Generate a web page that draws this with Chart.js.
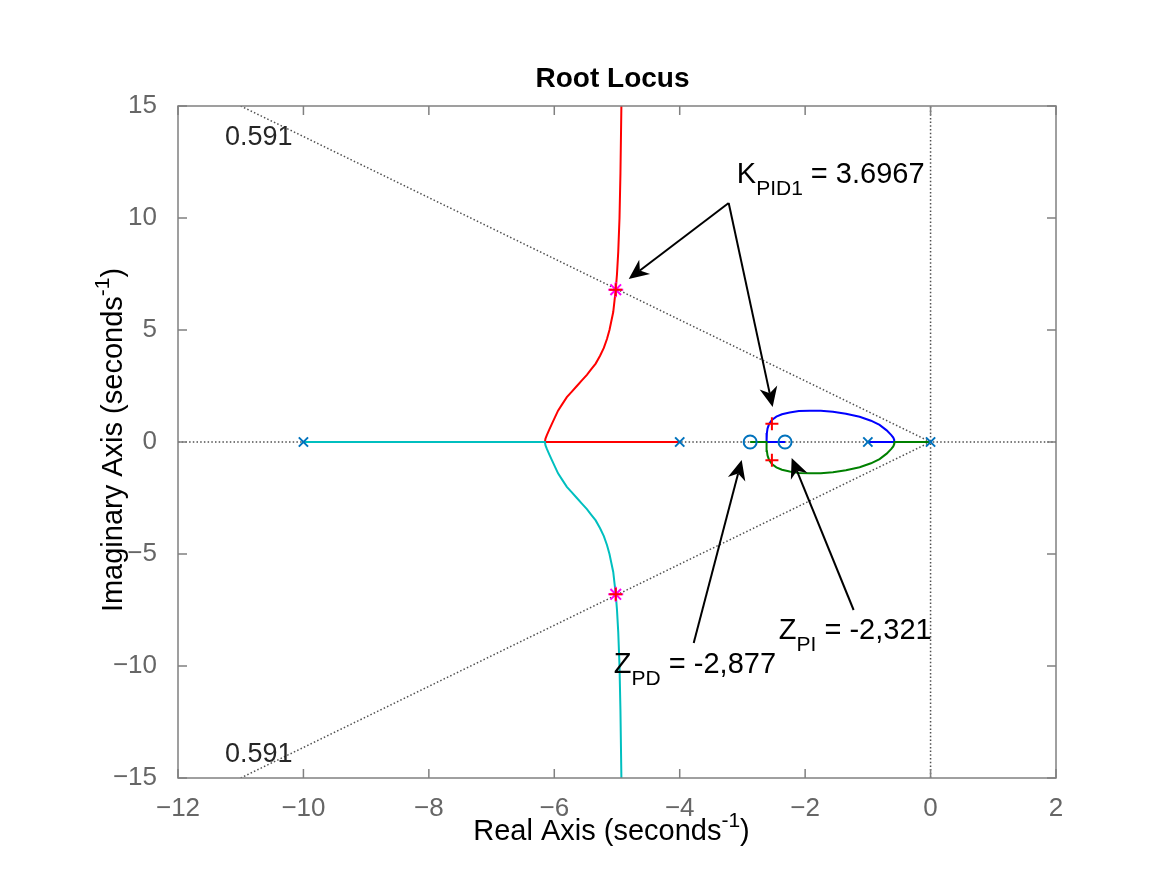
<!DOCTYPE html>
<html><head><meta charset="utf-8">
<script src="https://cdn.jsdelivr.net/npm/chart.js@4.4.0/dist/chart.umd.min.js"></script>
<style>html,body{margin:0;padding:0;background:#fff;} canvas{display:block;}</style>
</head><body>
<canvas id="c" width="1167" height="875"></canvas>
<script>
const FONT = '"Liberation Sans", Arial, Helvetica, sans-serif';

// ---- data ----
const poleX = [-10, -4, -1, 0];
const poleY = [0, 0, 0, 0];
const zeroX = [-2.877, -2.321];
const zeroY = [0, 0];

const redX = [-4, -6.15, -6.14, -6.12, -6.08, -6.04, -5.99, -5.94, -5.87, -5.80, -5.72, -5.64, -5.56, -5.48, -5.41, -5.34, -5.27, -5.21, -5.16, -5.12, -5.09, -5.06, -5.04, -5.02, -5.00, -4.98, -4.96, -4.945, -4.93];
const redY = [0, 0, 0.15, 0.30, 0.55, 0.80, 1.10, 1.40, 1.70, 2.00, 2.25, 2.50, 2.75, 3.00, 3.25, 3.50, 3.85, 4.20, 4.60, 5.00, 5.40, 5.80, 6.30, 6.80, 7.50, 8.50, 10.0, 12.0, 15.0];

const cyanX = [-10, -6.15, -6.14, -6.12, -6.08, -6.04, -5.99, -5.94, -5.87, -5.80, -5.72, -5.64, -5.56, -5.48, -5.41, -5.34, -5.27, -5.21, -5.16, -5.12, -5.09, -5.06, -5.04, -5.02, -5.00, -4.98, -4.96, -4.945, -4.93];
const cyanY = [0, 0, -0.15, -0.30, -0.55, -0.80, -1.10, -1.40, -1.70, -2.00, -2.25, -2.50, -2.75, -3.00, -3.25, -3.50, -3.85, -4.20, -4.60, -5.00, -5.40, -5.80, -6.30, -6.80, -7.50, -8.50, -10.0, -12.0, -15.0];

const blueX = [-1, -0.574, -0.58, -0.595, -0.626, -0.70, -0.813, -0.95, -1.131, -1.35, -1.557, -1.75, -1.928, -2.10, -2.247, -2.37, -2.459, -2.53, -2.575, -2.60, -2.61, -2.615, -2.615, -2.321];
const blueY = [0, 0, 0.10, 0.20, 0.31, 0.52, 0.76, 0.95, 1.13, 1.26, 1.35, 1.39, 1.40, 1.38, 1.32, 1.24, 1.13, 0.98, 0.80, 0.60, 0.40, 0.20, 0, 0];

const greenX = [0, -0.574, -0.58, -0.595, -0.626, -0.70, -0.813, -0.95, -1.131, -1.35, -1.557, -1.75, -1.928, -2.10, -2.247, -2.37, -2.459, -2.53, -2.575, -2.60, -2.61, -2.615, -2.615, -2.877];
const greenY = [0, 0, -0.10, -0.20, -0.31, -0.52, -0.76, -0.95, -1.13, -1.26, -1.35, -1.39, -1.40, -1.38, -1.32, -1.24, -1.13, -0.98, -0.80, -0.60, -0.40, -0.20, 0, 0];

const clPoleX = [-5.02, -5.02, -2.53, -2.53];
const clPoleY = [6.8, -6.8, 0.82, -0.82];
const starX = [-5.02, -5.02];
const starY = [6.8, -6.8];

const dampUpX = [0, -11.0];
const dampUpY = [0, 15];
const dampDnX = [0, -11.0];
const dampDnY = [0, -15];
const realAxX = [-12, 2];
const realAxY = [0, 0];
const imagAxX = [0, 0];
const imagAxY = [-15, 15];

const xTicks = [-12, -10, -8, -6, -4, -2, 0, 2];
const yTicks = [-15, -10, -5, 0, 5, 10, 15];
const dampLabel = '0.591';
const dampLabelX = [-11.25, -11.25];
const dampLabelY = [13.26, -14.29];

// annotation arrows: tail -> tip (data units)
const arrowTailX = [-3.219, -3.219, -3.777, -1.227];
const arrowTailY = [10.67, 10.67, -8.97, -7.5];
const arrowTipX = [-4.813, -2.518, -3.012, -2.215];
const arrowTipY = [7.28, 1.56, -0.80, -0.71];

const annText = [
  [['K', 0], ['PID1', 1], [' = 3.6967', 0]],
  [['Z', 0], ['PD', 1], [' = -2,877', 0]],
  [['Z', 0], ['PI', 1], [' = -2,321', 0]]
];
const annX = [-3.09, -5.05, -2.42];
const annY = [11.56, -10.31, -8.79];

const pts = (xs, ys) => xs.map((x, i) => ({x: x, y: ys[i]}));
const fmt = v => (v < 0 ? '\u2212' + Math.abs(v) : String(v));

const dotted = (xs, ys) => ({
  data: pts(xs, ys), showLine: true, borderColor: '#505050', borderWidth: 1.5,
  borderDash: [1.5, 2.2], pointRadius: 0, order: 10, fill: false
});
const curve = (xs, ys, c) => ({
  data: pts(xs, ys), showLine: true, borderColor: c, borderWidth: 2,
  pointRadius: 0, order: 5, fill: false, tension: 0
});

function drawRich(ctx, parts, x, y, big, small, align) {
  let w = 0;
  parts.forEach(p => { ctx.font = (p[1] ? small : big) + 'px ' + FONT; w += ctx.measureText(p[0]).width; });
  let cx = align === 'center' ? x - w / 2 : x;
  ctx.textAlign = 'left'; ctx.textBaseline = 'alphabetic';
  parts.forEach(p => {
    ctx.font = (p[1] ? small : big) + 'px ' + FONT;
    const dy = p[1] === 1 ? 12 : (p[1] === -1 ? -13 : 0);
    ctx.fillText(p[0], cx, y + dy);
    cx += ctx.measureText(p[0]).width;
  });
}

function drawArrow(ctx, x1, y1, x2, y2) {
  const ang = Math.atan2(y2 - y1, x2 - x1);
  const L = 20, H = 9, N = 6;
  const bx = x2 - Math.cos(ang) * (L - N), by = y2 - Math.sin(ang) * (L - N);
  ctx.strokeStyle = '#000'; ctx.fillStyle = '#000'; ctx.lineWidth = 2;
  ctx.beginPath(); ctx.moveTo(x1, y1); ctx.lineTo(bx, by); ctx.stroke();
  const px = -Math.sin(ang), py = Math.cos(ang);
  const backX = x2 - Math.cos(ang) * L, backY = y2 - Math.sin(ang) * L;
  ctx.beginPath();
  ctx.moveTo(x2, y2);
  ctx.lineTo(backX + px * H, backY + py * H);
  ctx.lineTo(bx, by);
  ctx.lineTo(backX - px * H, backY - py * H);
  ctx.closePath(); ctx.fill();
}

const decor = {
  id: 'decor',
  afterDraw(chart) {
    const ctx = chart.ctx, a = chart.chartArea, xs = chart.scales.x, ys = chart.scales.y;
    ctx.save();
    ctx.strokeStyle = '#808080'; ctx.lineWidth = 1.5;
    ctx.strokeRect(a.left, a.top, a.right - a.left, a.bottom - a.top);
    const tl = 9;
    ctx.beginPath();
    xTicks.forEach(v => { const p = xs.getPixelForValue(v);
      ctx.moveTo(p, a.bottom); ctx.lineTo(p, a.bottom - tl);
      ctx.moveTo(p, a.top); ctx.lineTo(p, a.top + tl); });
    yTicks.forEach(v => { const p = ys.getPixelForValue(v);
      ctx.moveTo(a.left, p); ctx.lineTo(a.left + tl, p);
      ctx.moveTo(a.right, p); ctx.lineTo(a.right - tl, p); });
    ctx.stroke();
    ctx.fillStyle = '#262626';
    dampLabelX.forEach((v, i) => {
      ctx.font = '27px ' + FONT; ctx.textAlign = 'left'; ctx.textBaseline = 'alphabetic';
      ctx.fillText(dampLabel, xs.getPixelForValue(v), ys.getPixelForValue(dampLabelY[i]));
    });
    arrowTailX.forEach((v, i) => drawArrow(ctx, xs.getPixelForValue(v), ys.getPixelForValue(arrowTailY[i]),
      xs.getPixelForValue(arrowTipX[i]), ys.getPixelForValue(arrowTipY[i])));
    ctx.fillStyle = '#000';
    annText.forEach((t, i) => drawRich(ctx, t, xs.getPixelForValue(annX[i]), ys.getPixelForValue(annY[i]), 29, 21, 'left'));
    ctx.fillStyle = '#000'; ctx.font = 'bold 28px ' + FONT; ctx.textAlign = 'center'; ctx.textBaseline = 'alphabetic';
    ctx.fillText('Root Locus', (a.left + a.right) / 2 - 4.5, 87);
    drawRich(ctx, [['Real Axis (seconds', 0], ['-1', -1], [')', 0]], (a.left + a.right) / 2 - 5.5, 840, 29, 21, 'center');
    ctx.save();
    ctx.translate(122, (a.top + a.bottom) / 2 - 2);
    ctx.rotate(-Math.PI / 2);
    drawRich(ctx, [['Imaginary Axis (seconds', 0], ['-1', -1], [')', 0]], 0, 0, 29, 21, 'center');
    ctx.restore();
    ctx.restore();
  }
};

new Chart(document.getElementById('c'), {
  type: 'scatter',
  data: { datasets: [
    dotted(realAxX, realAxY),
    dotted(imagAxX, imagAxY),
    dotted(dampUpX, dampUpY),
    dotted(dampDnX, dampDnY),
    curve(cyanX, cyanY, '#00bfbf'),
    curve(redX, redY, '#ff0000'),
    curve(greenX, greenY, '#008000'),
    curve(blueX, blueY, '#0000ff'),
    { data: pts(poleX, poleY), showLine: false, pointStyle: 'crossRot', pointRadius: 6.5,
      borderColor: '#0072bd', pointBorderWidth: 2, order: 2 },
    { data: pts(zeroX, zeroY), showLine: false, pointStyle: 'circle', pointRadius: 6.5,
      borderColor: '#0072bd', backgroundColor: 'rgba(0,0,0,0)', pointBorderWidth: 2, order: 2 },
    { data: pts(starX, starY), showLine: false, pointStyle: 'star', pointRadius: 7.5,
      borderColor: '#ff00ff', pointBorderWidth: 2, order: 1 },
    { data: pts(clPoleX, clPoleY), showLine: false, pointStyle: 'cross', pointRadius: 6.5,
      borderColor: '#ff0000', pointBorderWidth: 2, order: 0 }
  ]},
  options: {
    responsive: false, animation: false, devicePixelRatio: 1,
    layout: { padding: { left: 0, right: 111, top: 106, bottom: 0 } },
    plugins: { legend: { display: false }, tooltip: { enabled: false }, title: { display: false } },
    scales: {
      x: { type: 'linear', min: -12, max: 2,
        afterBuildTicks: s => { s.ticks = xTicks.map(v => ({ value: v })); },
        afterFit: s => { s.height = 97; },
        ticks: { font: { family: FONT, size: 26 }, color: '#666666', padding: 15, maxRotation: 0, autoSkip: false, callback: fmt },
        grid: { display: false, drawTicks: false }, border: { display: false } },
      y: { type: 'linear', min: -15, max: 15,
        afterBuildTicks: s => { s.ticks = yTicks.map(v => ({ value: v })); },
        afterFit: s => { s.width = 178; },
        ticks: { font: { family: FONT, size: 26 }, color: '#666666', padding: 21, autoSkip: false, callback: fmt },
        grid: { display: false, drawTicks: false }, border: { display: false } }
    }
  },
  plugins: [decor]
});
</script>
</body></html>
